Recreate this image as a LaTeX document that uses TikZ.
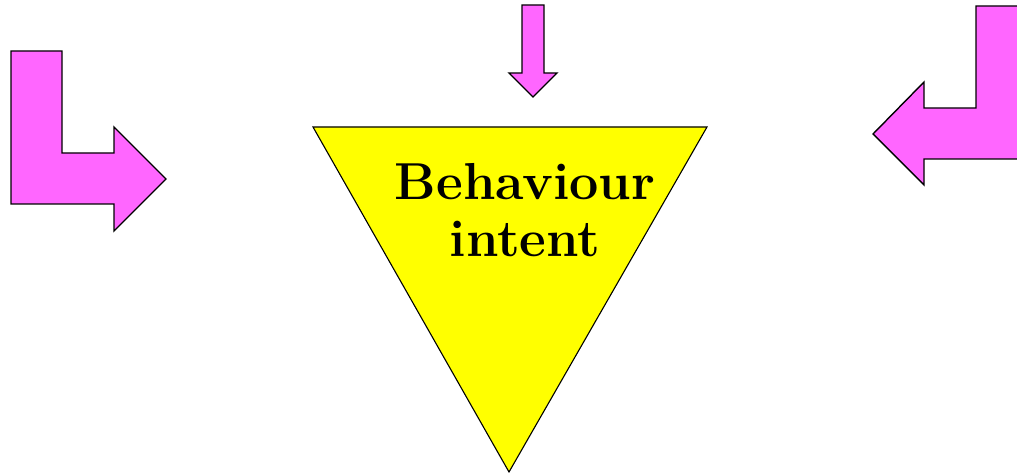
\documentclass[tikz,border=0pt]{standalone}
\usepackage{tikz}
\usetikzlibrary{positioning}
\definecolor{arrowcolor}{HTML}{FF66FF}
\definecolor{intentcolor}{HTML}{FFFF00}

\begin{document}
\begin{tikzpicture}[x=1pt, y=-1pt,
    blockarrow/.style={fill=arrowcolor, draw=black, line width=1.4pt, line join=miter},
    intentbox/.style={fill=intentcolor, draw=black, line width=1.1pt}]
    \useasboundingbox (0,0) rectangle (1017,473);
    \clip (0,0) rectangle (1017,473);

    % Left bent arrow
    \draw[blockarrow] (11,51) -- (62,51) -- (62,153) -- (114,153) -- (114,127)
        -- (166,179) -- (114,231) -- (114,204) -- (11,204) -- cycle;

    % Top arrow
    \draw[blockarrow] (522,5) -- (544,5) -- (544,73) -- (557,73) -- (533,97)
        -- (509,73) -- (522,73) -- cycle;

    % Right bent arrow (runs off the edge)
    \draw[blockarrow] (976,6) -- (1030,6) -- (1030,159) -- (924,159) -- (924,185)
        -- (873,134) -- (924,82) -- (924,108) -- (976,108) -- cycle;

    % Triangle
    \draw[intentbox] (313,127) -- (707,127) -- (509,472) -- cycle;

    % Label
    \node[align=center, font=\fontsize{52}{57}\selectfont\bfseries, inner sep=0pt]
        (intent) at (525,210) {Behaviour\\intent};
\end{tikzpicture}
\end{document}
